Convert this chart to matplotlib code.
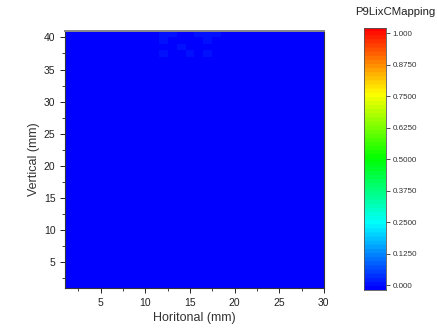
import numpy as np
import matplotlib
matplotlib.use("Agg")
import matplotlib.pyplot as plt
from matplotlib.colors import LinearSegmentedColormap, Normalize

plt.rcParams['font.family'] = ['Liberation Sans', 'DejaVu Sans']

# grid: x cells centred on 1..30, y cells between integer edges 1..41
x_centers = np.arange(1, 31)
y_edges = np.arange(1, 42)

# the few faintly non-zero cells (x centre, lower y edge, value)
hot_x = [12, 13, 14, 15, 16, 17, 18, 12, 13, 17, 14, 12, 15, 17, 20, 21, 22, 23, 28, 29, 30]
hot_y = [40, 40, 40, 40, 40, 40, 40, 39, 39, 39, 38, 37, 37, 37, 40, 40, 40, 40, 40, 40, 40]
hot_v = [0.03, 0.03, 0.015, 0.015, 0.03, 0.03, 0.03, 0.03, 0.012, 0.03, 0.025, 0.025, 0.025, 0.025,
         0.008, 0.008, 0.008, 0.008, 0.008, 0.008, 0.008]

cbar_ticks = [0.0, 0.125, 0.25, 0.375, 0.5, 0.625, 0.75, 0.875, 1.0]
cbar_labels = ["0.000", "0.1250", "0.2500", "0.3750", "0.5000", "0.6250", "0.7500", "0.8750", "1.000"]

z = np.zeros((len(y_edges) - 1, len(x_centers)))
for xi, yi, v in zip(hot_x, hot_y, hot_v):
    z[yi - 1, xi - 1] = v

x_edges = np.append(x_centers - 0.5, x_centers[-1] + 0.5)

cmap = LinearSegmentedColormap.from_list(
    "origin_rainbow",
    [(0.0, "#0000ff"), (0.25, "#00ffff"), (0.5, "#00ff00"), (0.75, "#ffff00"), (1.0, "#ff0000")],
    N=64)
norm = Normalize(vmin=0, vmax=1)

fig = plt.figure(figsize=(4.37, 3.33), dpi=100)
ax = fig.add_axes([0.149, 0.135, 0.592, 0.772])
ax.pcolormesh(x_edges, y_edges, z, cmap=cmap, norm=norm, shading="flat")
ax.set_xlim(1, 30)
ax.set_ylim(1, 41)
ax.set_xticks([5, 10, 15, 20, 25, 30])
ax.set_yticks([5, 10, 15, 20, 25, 30, 35, 40])
ax.set_xticks(np.arange(2.5, 30, 5), minor=True)
ax.set_yticks(np.arange(2.5, 41, 5), minor=True)
ax.tick_params(which="major", direction="out", length=3.5, width=0.7, labelsize=7.5, colors="#222222")
ax.tick_params(which="minor", direction="out", length=2, width=0.6, colors="#222222")
ax.tick_params(top=False, right=False)
for sp in ax.spines.values():
    sp.set_color("#333333")
    sp.set_linewidth(0.8)
ax.spines["top"].set_color("#888888")
ax.spines["top"].set_linewidth(1.4)
ax.set_xlabel("Horitonal (mm)", fontsize=9, color="#333333", labelpad=3)
ax.set_ylabel("Vertical (mm)", fontsize=9, color="#333333", labelpad=3)

# colour bar
cax = fig.add_axes([0.833, 0.129, 0.050, 0.787])
pad = 0.02
grad = np.linspace(0, 1, 256).reshape(-1, 1)
cax.imshow(grad, aspect="auto", cmap=cmap, norm=norm, origin="lower",
           extent=[0, 1, -pad, 1 + pad])
cax.set_xlim(0, 1)
cax.set_ylim(-pad, 1 + pad)
cax.set_xticks([])
cax.yaxis.tick_right()
cax.set_yticks(cbar_ticks)
cax.set_yticklabels(cbar_labels)
cax.tick_params(axis="y", direction="out", length=3, width=0.6, labelsize=5.8, colors="#333333", pad=2)
for sp in cax.spines.values():
    sp.set_color("#555555")
    sp.set_linewidth(0.6)
fig.text(0.905, 0.963, "P9LixCMapping", ha="center", va="center", fontsize=8.2, color="#222222")

fig.savefig("out.png", dpi=100)
